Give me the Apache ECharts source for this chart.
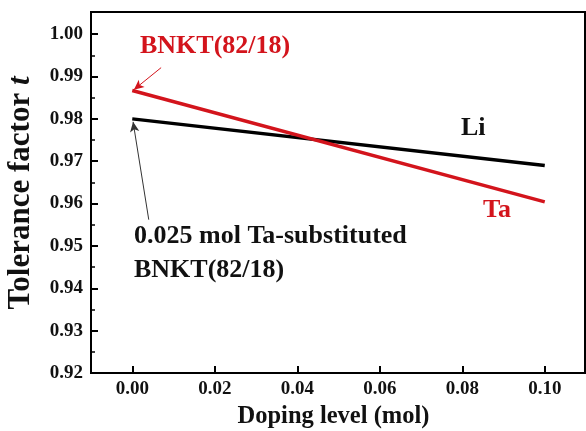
<!DOCTYPE html>
<html>
<head>
<meta charset="utf-8">
<script src="https://cdn.jsdelivr.net/npm/echarts@6/dist/echarts.min.js"></script>
<style>
  html, body { margin: 0; padding: 0; background: #fff; }
  #chart { width: 586px; height: 431px; }
</style>
</head>
<body>
<div id="chart"></div>
<script>
// data
const doping = [0.0, 0.10];
const liValues = [0.980, 0.969];
const taValues = [0.9867, 0.9604];
const xTicks = [0, 0.02, 0.04, 0.06, 0.08, 0.10];
const yTicks = [0.92, 0.93, 0.94, 0.95, 0.96, 0.97, 0.98, 0.99, 1.00];

const font = '"Liberation Serif", "Times New Roman", serif';
const red = '#d3141c';

const chart = echarts.init(document.getElementById('chart'));
chart.setOption({
  animation: false,
  grid: { left: 91, right: 0, top: 13, bottom: 58, outerBoundsMode: 'none' },
  xAxis: {
    type: 'value', min: -0.01, max: 0.11, interval: 0.02,
    name: 'Doping level (mol)', nameLocation: 'middle', nameGap: 30,
    nameTextStyle: { fontFamily: font, fontWeight: 'bold', fontSize: 24.5, color: '#111', padding: [0, 10, 0, 0] },
    axisLine: { onZero: false, lineStyle: { color: '#000', width: 2 } },
    axisTick: { inside: true, length: 7, lineStyle: { color: '#000', width: 2 }, customValues: xTicks },
    minorTick: { show: true, splitNumber: 2, length: 4, lineStyle: { color: '#000', width: 1.5 } },
    axisLabel: { fontFamily: font, fontWeight: 'bold', fontSize: 19, color: '#111', margin: 7,
      customValues: xTicks, formatter: v => v.toFixed(2) },
    splitLine: { show: false }
  },
  yAxis: {
    type: 'value', min: 0.92, max: 1.005, interval: 0.01,
    name: '{b|Tolerance factor }{i|t}', nameLocation: 'middle', nameGap: 55,
    nameTextStyle: { rich: {
      b: { fontFamily: font, fontWeight: 'bold', fontSize: 31, color: '#111' },
      i: { fontFamily: font, fontWeight: 'bold', fontStyle: 'italic', fontSize: 31, color: '#111' }
    } },
    axisLine: { onZero: false, lineStyle: { color: '#000', width: 2 } },
    axisTick: { inside: true, length: 7, lineStyle: { color: '#000', width: 2 }, customValues: yTicks },
    minorTick: { show: true, splitNumber: 2, length: 4, lineStyle: { color: '#000', width: 1.5 } },
    axisLabel: { fontFamily: font, fontWeight: 'bold', fontSize: 19, color: '#111', margin: 8,
      customValues: yTicks, formatter: v => v.toFixed(2) },
    splitLine: { show: false }
  },
  graphic: [
    { type: 'rect', shape: { x: 91, y: 12, width: 494, height: 361 }, style: { fill: 'none', stroke: '#000', lineWidth: 2 }, silent: true },
    { type: 'text', left: 140, top: 33, style: { text: 'BNKT(82/18)', font: 'bold 26px ' + font, fill: red } },
    { type: 'text', left: 461, top: 115, style: { text: 'Li', font: 'bold 26px ' + font, fill: '#111' } },
    { type: 'text', left: 483, top: 197, style: { text: 'Ta', font: 'bold 26px ' + font, fill: red } },
    { type: 'text', left: 134, top: 223, style: { text: '0.025 mol Ta-substituted', font: 'bold 26px ' + font, fill: '#111' } },
    { type: 'text', left: 134, top: 257, style: { text: 'BNKT(82/18)', font: 'bold 26px ' + font, fill: '#111' } }
  ],
  series: [
    {
      name: 'Li', type: 'line', showSymbol: false,
      data: doping.map((x, i) => [x, liValues[i]]),
      lineStyle: { color: '#000', width: 3.5 },
      markLine: {
        silent: true, symbol: ['none', 'arrow'], symbolSize: [7, 10],
        label: { show: false },
        lineStyle: { color: '#333', width: 1, type: 'solid' },
        data: [[{ coord: [0.0040, 0.9562] }, { coord: [0.0002, 0.9793] }]]
      }
    },
    {
      name: 'Ta', type: 'line', showSymbol: false,
      data: doping.map((x, i) => [x, taValues[i]]),
      lineStyle: { color: red, width: 3.5 },
      markLine: {
        silent: true, symbol: ['none', 'arrow'], symbolSize: [7, 10],
        label: { show: false },
        lineStyle: { color: red, width: 1, type: 'solid' },
        data: [[{ coord: [0.0070, 0.9921] }, { coord: [0.0004, 0.9869] }]]
      }
    }
  ]
});
</script>
</body>
</html>
